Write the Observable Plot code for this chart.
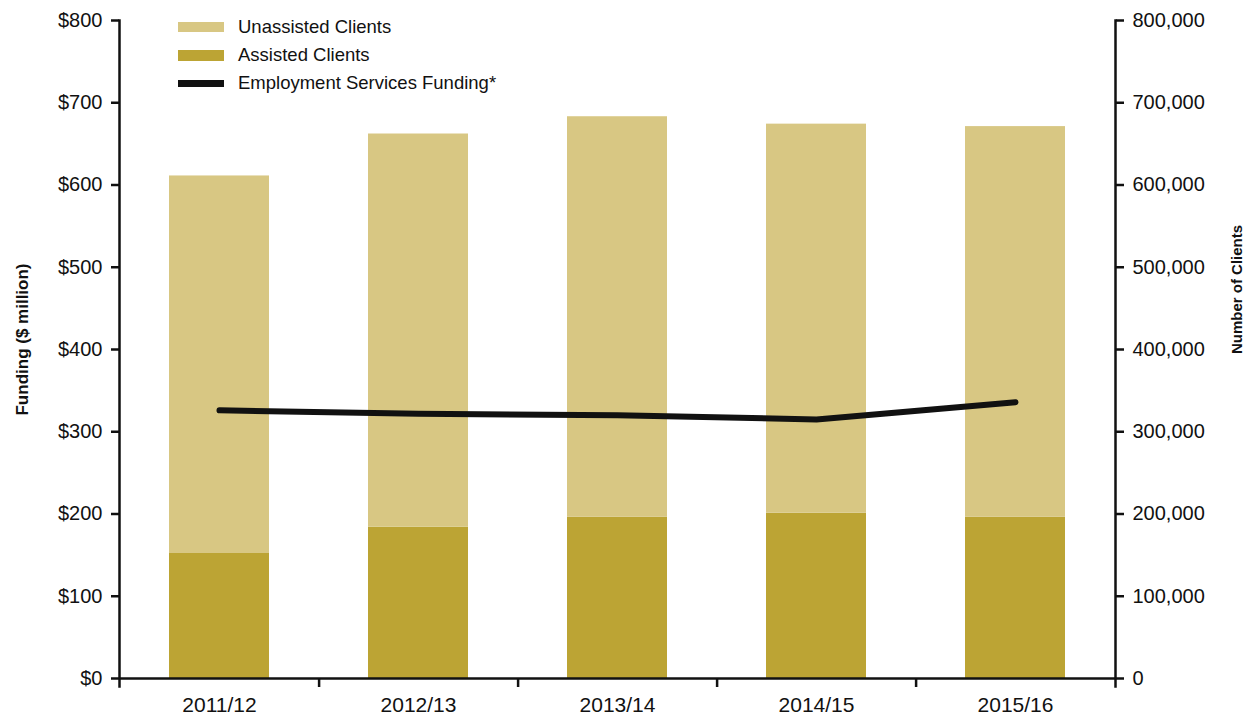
<!DOCTYPE html>
<html>
<head>
<meta charset="utf-8">
<script src="https://cdn.jsdelivr.net/npm/d3@7"></script>
<script src="https://cdn.jsdelivr.net/npm/@observablehq/plot@0.6"></script>
<style>
  body { margin: 0; background: #fff; }
  #wrap { position: relative; width: 1251px; height: 717px; }
  #legend { position: absolute; left: 178px; top: 13px; font-family: "Liberation Sans", Arial, sans-serif; font-size: 18.5px; color: #111; }
  .row { display: flex; align-items: center; height: 28px; }
  .sw { width: 46px; height: 10px; margin-right: 14px; }
</style>
</head>
<body>
<div id="wrap">
  <div id="chart"></div>
  <div id="legend"></div>
</div>
<script>
// Data
const years = ["2011/12", "2012/13", "2013/14", "2014/15", "2015/16"];
const assistedClients = [152000, 184000, 196000, 201000, 196000];
const unassistedClients = [459000, 478000, 487000, 473000, 475000];
const fundingMillions = [326, 322, 320, 315, 336];
const leftTicks = [0, 100, 200, 300, 400, 500, 600, 700, 800];
const rightTicks = [0, 100000, 200000, 300000, 400000, 500000, 600000, 700000, 800000];
const seriesNames = ["Assisted Clients", "Unassisted Clients"];
const seriesColors = ["#bca434", "#d8c783"];
const legendItems = [
  {label: "Unassisted Clients", color: "#d8c783", h: 10},
  {label: "Assisted Clients", color: "#bca434", h: 11},
  {label: "Employment Services Funding*", color: "#111", h: 7}
];

const bars = years.flatMap((y, i) => [
  {year: y, type: seriesNames[0], clients: assistedClients[i]},
  {year: y, type: seriesNames[1], clients: unassistedClients[i]}
]);
const line = years.map((y, i) => ({year: y, funding: fundingMillions[i]}));

const plot = Plot.plot({
  width: 1251,
  height: 717,
  marginLeft: 119,
  marginRight: 136,
  marginTop: 20,
  marginBottom: 39,
  style: {fontFamily: "Liberation Sans, Arial, sans-serif", fontSize: "20px", color: "#111", background: "#fff"},
  x: {type: "band", domain: years, paddingInner: 0.5, paddingOuter: 0.25, label: null},
  y: {domain: [0, 800000], label: null},
  color: {domain: seriesNames, range: seriesColors},
  marks: [
    Plot.barY(bars, {x: "year", y: "clients", fill: "type"}),
    Plot.line(line, {x: "year", y: d => d.funding * 1000, stroke: "#111", strokeWidth: 6}),
    Plot.ruleY([0], {stroke: "#111", strokeWidth: 2.5}),
    Plot.frame({anchor: "left", stroke: "#111", strokeWidth: 2.5, insetBottom: -8}),
    Plot.frame({anchor: "right", stroke: "#111", strokeWidth: 2.5, insetBottom: -8}),
    Plot.ruleX(years.slice(0, 4), {x: d => d, dx: 99.6, y1: 0, y2: 0, insetTop: 9, stroke: "#111", strokeWidth: 2.5}),
    Plot.axisY(leftTicks.map(d => d * 1000), {anchor: "left", tickSize: 8, tickPadding: 9, strokeWidth: 2.5, tickFormat: d => "$" + d / 1000, label: null}),
    Plot.axisY(rightTicks, {anchor: "right", tickSize: 8, tickPadding: 9, strokeWidth: 2.5, tickFormat: d3.format(","), label: null}),
    Plot.axisX({tickSize: 0, tickPadding: 19, fontSize: 21, label: null}),
    Plot.text(["Funding ($ million)"], {text: d => d, frameAnchor: "left", textAnchor: "middle", lineAnchor: "middle", dx: -97, dy: -10, rotate: -90, fontFamily: "Liberation Sans, Arial, sans-serif", fontWeight: "bold", fontSize: 17, fill: "#111"}),
    Plot.text(["Number of Clients"], {text: d => d, frameAnchor: "right", textAnchor: "middle", lineAnchor: "middle", dx: 122, dy: -60, rotate: -90, fontFamily: "Liberation Sans, Arial, sans-serif", fontWeight: "bold", fontSize: 15, fill: "#111"})
  ]
});
document.getElementById("chart").appendChild(plot);

const legend = document.getElementById("legend");
for (const item of legendItems) {
  const row = document.createElement("div");
  row.className = "row";
  const sw = document.createElement("div");
  sw.className = "sw";
  sw.style.background = item.color;
  sw.style.height = item.h + "px";
  const t = document.createElement("span");
  t.textContent = item.label;
  row.appendChild(sw);
  row.appendChild(t);
  legend.appendChild(row);
}
</script>
</body>
</html>
